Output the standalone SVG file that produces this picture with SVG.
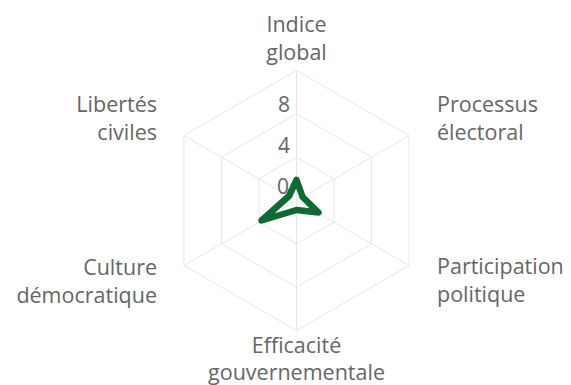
<svg xmlns="http://www.w3.org/2000/svg" width="571" height="385" viewBox="0 0 571 385">
<style>
.grid{fill:none;stroke:#e6e6e6;stroke-width:1}
.lbl{font-family:"Open Sans","Liberation Sans",sans-serif;font-size:21.5px;fill:#666666}
.tick{font-family:"Open Sans","Liberation Sans",sans-serif;font-size:21px;fill:#666666;text-anchor:end}
.series{fill:none;stroke:#0d6a33;stroke-width:6.5;stroke-linejoin:round;stroke-linecap:round}
</style>
<rect width="571" height="385" fill="#ffffff"/>
<g id="grid">
<polygon class="grid" points="296.5,70.5 409.08,135.5 409.08,265.5 296.5,330.5 183.92,265.5 183.92,135.5"/>
<polygon class="grid" points="296.5,113.83 371.56,157.17 371.56,243.83 296.5,287.17 221.44,243.83 221.44,157.17"/>
<polygon class="grid" points="296.5,157.17 334.03,178.83 334.03,222.17 296.5,243.83 258.97,222.17 258.97,178.83"/>
<path class="grid" d="M296.5,200.5L296.5,70.5M296.5,200.5L409.08,135.5M296.5,200.5L409.08,265.5M296.5,200.5L296.5,330.5M296.5,200.5L183.92,265.5M296.5,200.5L183.92,135.5"/>
</g>
<g id="ticks">
<text class="tick" x="290" y="111.5">8</text>
<text class="tick" x="290" y="153">4</text>
<text class="tick" x="289" y="194">0</text>
</g>
<g id="series">
<polygon class="series" points="296.5,180 302.6,197 318.5,212.5 296.5,210 261.5,220.5 289,196"/>
</g>
<g id="label-indice">
<text class="lbl" x="296.5" y="32" text-anchor="middle">Indice</text>
<text class="lbl" x="296.5" y="60" text-anchor="middle">global</text>
</g>
<g id="label-processus">
<text class="lbl" x="437" y="112">Processus</text>
<text class="lbl" x="437" y="140">électoral</text>
</g>
<g id="label-participation">
<text class="lbl" x="437" y="274">Participation</text>
<text class="lbl" x="437" y="302">politique</text>
</g>
<g id="label-efficacite">
<text class="lbl" x="296.5" y="353" text-anchor="middle">Efficacité</text>
<text class="lbl" x="296.5" y="380" text-anchor="middle">gouvernementale</text>
</g>
<g id="label-culture">
<text class="lbl" x="157" y="275" text-anchor="end">Culture</text>
<text class="lbl" x="157" y="303" text-anchor="end">démocratique</text>
</g>
<g id="label-libertes">
<text class="lbl" x="157" y="112" text-anchor="end">Libertés</text>
<text class="lbl" x="157" y="140" text-anchor="end">civiles</text>
</g>
</svg>
